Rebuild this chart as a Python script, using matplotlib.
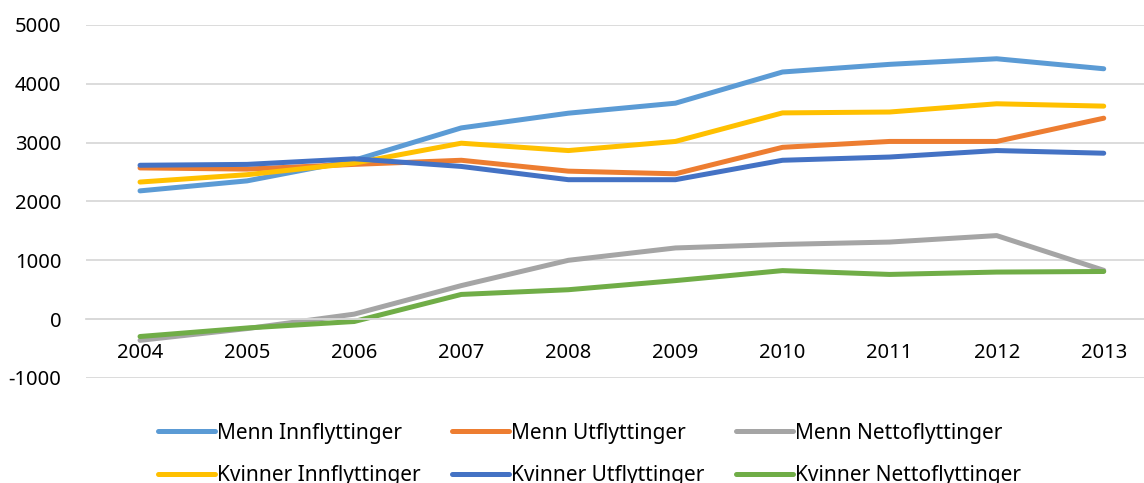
import matplotlib.pyplot as plt
import numpy as np

plt.rcParams['font.family'] = ['Noto Sans', 'DejaVu Sans']
plt.rcParams['axes.unicode_minus'] = False

years = ['2004', '2005', '2006', '2007', '2008', '2009', '2010', '2011', '2012', '2013']

menn_inn = [2180, 2350, 2700, 3250, 3500, 3670, 4200, 4330, 4425, 4255]
menn_ut = [2570, 2550, 2630, 2700, 2515, 2470, 2920, 3020, 3020, 3415]
menn_netto = [-360, -160, 85, 570, 1000, 1210, 1270, 1310, 1420, 830]
kvinner_inn = [2330, 2455, 2650, 2990, 2865, 3020, 3505, 3520, 3660, 3620]
kvinner_ut = [2615, 2630, 2725, 2595, 2370, 2370, 2700, 2755, 2865, 2820]
kvinner_netto = [-295, -150, -40, 420, 500, 655, 825, 760, 800, 810]

series = [
    ('Menn Innflyttinger', menn_inn, '#5B9BD5'),
    ('Menn Utflyttinger', menn_ut, '#ED7D31'),
    ('Menn Nettoflyttinger', menn_netto, '#A5A5A5'),
    ('Kvinner Innflyttinger', kvinner_inn, '#FFC000'),
    ('Kvinner Utflyttinger', kvinner_ut, '#4472C4'),
    ('Kvinner Nettoflyttinger', kvinner_netto, '#70AD47'),
]

fig = plt.figure(figsize=(11.44, 4.83), dpi=100)
ax = fig.add_axes([0.0756, 0.2174, 0.936, 0.731])

x = np.arange(len(years))
lines = []
for name, vals, col in series:
    ln, = ax.plot(x, vals, color=col, lw=3.6, label=name, solid_capstyle='round',
                  solid_joinstyle='round')
    lines.append(ln)

ax.set_xlim(-0.5, len(years) - 0.5)
ax.set_ylim(-1000, 5000)
ax.set_yticks(range(-1000, 5001, 1000))
ax.grid(axis='y', color='#D9D9D9', lw=1.3)
ax.set_axisbelow(True)
for s in ax.spines.values():
    s.set_visible(False)
ax.spines['bottom'].set_visible(True)
ax.spines['bottom'].set_position(('data', 0))
ax.spines['bottom'].set_color('#D9D9D9')
ax.spines['bottom'].set_linewidth(1.3)
ax.set_xticks(x)
ax.set_xticklabels(years)
ax.tick_params(axis='x', length=0, pad=17, labelsize=14.5)
ax.tick_params(axis='y', length=0, pad=18, labelsize=14.5)

# legend fills column-wise, reorder so rows read like the original
order = [0, 3, 1, 4, 2, 5]
handles = [lines[i] for i in order]
fig.legend(handles, [h.get_label() for h in handles],
           loc='upper left', bbox_to_anchor=(0.138, 0.125), ncol=3, frameon=False,
           fontsize=15, handlelength=2.75, handletextpad=0.1, columnspacing=1.5,
           labelspacing=1.05, borderaxespad=0, borderpad=0)

fig.savefig('out.png', dpi=100)
